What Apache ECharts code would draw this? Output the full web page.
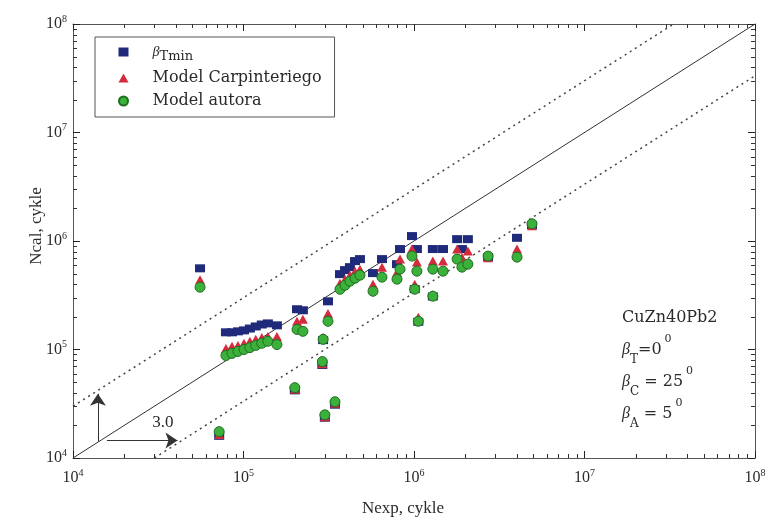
<!DOCTYPE html>
<html>
<head>
<meta charset="utf-8">
<script src="https://cdn.jsdelivr.net/npm/echarts@6/dist/echarts.min.js"></script>
<style>
  html, body { margin: 0; padding: 0; background: #fff; }
  #chart { width: 770px; height: 520px; }
</style>
</head>
<body>
<div id="chart"></div>
<script>
// experimental lives and the three predictions (cycles)
const nexp = [
  5.56e4, 7.2e4, 7.89e4, 8.56e4, 9.28e4, 1.007e5, 1.09e5, 1.18e5, 1.28e5, 1.39e5,
  1.57e5, 2.0e5, 2.06e5, 2.23e5, 2.9e5, 2.93e5, 3.0e5, 3.13e5, 3.44e5, 3.68e5,
  3.94e5, 4.21e5, 4.51e5, 4.82e5, 5.75e5, 6.49e5, 7.95e5, 8.28e5, 9.73e5, 1.01e6,
  1.04e6, 1.06e6, 1.29e6, 1.29e6, 1.48e6, 1.79e6, 1.91e6, 2.07e6, 2.72e6, 4.02e6,
  4.92e6
];
const betaTmin = [
  5.6e5, 1.6e4, 1.44e5, 1.44e5, 1.47e5, 1.5e5, 1.56e5, 1.63e5, 1.7e5, 1.74e5,
  1.67e5, 4.2e4, 2.35e5, 2.3e5, 7.2e4, 1.22e5, 2.35e4, 2.78e5, 3.1e4, 4.95e5,
  5.39e5, 5.74e5, 6.53e5, 6.81e5, 5.06e5, 6.81e5, 6.12e5, 8.43e5, 1.11e6, 3.6e5,
  8.43e5, 1.8e5, 3.08e5, 8.43e5, 8.43e5, 1.04e6, 8.43e5, 1.04e6, 7.1e5, 1.07e6,
  1.4e6
];
const carpinteri = [
  4.4e5, 1.65e4, 1.02e5, 1.07e5, 1.09e5, 1.14e5, 1.19e5, 1.24e5, 1.29e5, 1.32e5,
  1.32e5, 4.3e4, 1.82e5, 1.9e5, 7.4e4, 1.3e5, 2.4e4, 2.15e5, 3.2e4, 4.08e5,
  4.45e5, 4.84e5, 5.27e5, 5.5e5, 4.0e5, 5.74e5, 5.16e5, 6.81e5, 8.43e5, 4.0e5,
  6.39e5, 1.98e5, 3.2e5, 6.53e5, 6.53e5, 8.43e5, 7.1e5, 8.08e5, 7.0e5, 8.43e5,
  1.38e6
];
const autora = [
  3.75e5, 1.75e4, 8.8e4, 9.2e4, 9.6e4, 1.0e5, 1.04e5, 1.09e5, 1.14e5, 1.19e5,
  1.11e5, 4.45e4, 1.53e5, 1.47e5, 7.74e4, 1.24e5, 2.5e4, 1.82e5, 3.3e4, 3.59e5,
  3.91e5, 4.26e5, 4.54e5, 4.84e5, 3.44e5, 4.64e5, 4.45e5, 5.5e5, 7.26e5, 3.59e5,
  5.27e5, 1.82e5, 3.1e5, 5.5e5, 5.27e5, 6.81e5, 5.74e5, 6.12e5, 7.26e5, 7.1e5,
  1.44e6
];

const seriesNames = ['βTmin', 'Model Carpinteriego', 'Model autora'];
const axisMin = 1e4;
const axisMax = 1e8;
const scatterFactor = 3.0;
const perfectLine = [[1e4, 1e4], [1e8, 1e8]];
const upperBand = [[1e4, 3e4], [3.333e7, 1e8]];
const lowerBand = [[3e4, 1e4], [1e8, 3.333e7]];
const decades = [1e4, 1e5, 1e6, 1e7];
const minorSteps = [2, 3, 4, 5, 6, 7, 8, 9];
const materialLines = ['CuZn40Pb2', 'T=0', 'C = 25', 'A = 5'];

const SERIF = '"Liberation Serif", "DejaVu Serif", serif';
const WIDE_SERIF = '"DejaVu Serif", "Liberation Serif", serif';
const INK = '#2a2a2a';

const pairs = (ys) => nexp.map((x, i) => [x, ys[i]]);

const minorValues = [];
decades.forEach((d) => minorSteps.forEach((m) => minorValues.push(d * m)));

const supLabel = (v) => '{b|10}{e|' + Math.round(Math.log10(v)) + '}';
const supRich = {
  b: { fontFamily: SERIF, fontSize: 16, color: INK, lineHeight: 20 },
  e: { fontFamily: SERIF, fontSize: 10, color: INK, verticalAlign: 'top', lineHeight: 20, padding: [0, 0, 6, 0] },
};

const chart = echarts.init(document.getElementById('chart'));

const logAxis = (extra) => Object.assign({
  type: 'log',
  logBase: 10,
  min: axisMin,
  max: axisMax,
  nameMoveOverlap: false,
  splitLine: { show: false },
  axisLine: { show: true, lineStyle: { color: '#555', width: 1 } },
  axisTick: { show: true, inside: true, length: 7, lineStyle: { color: '#222', width: 1 } },
}, extra);

const textBlock = {
  type: 'text',
  left: 622,
  top: 302,
  style: {
    text: materialLines[0] + '\n' +
      '{g|β}{s|T}' + '=0' + '{p|0}\n' +
      '{g|β}{s|C}' + ' = 25' + '{p|0}\n' +
      '{g|β}{s|A}' + ' = 5' + '{p|0}',
    font: '16px ' + WIDE_SERIF,
    fill: INK,
    lineHeight: 32,
    rich: {
      g: { font: 'italic 16px ' + SERIF, fill: INK, lineHeight: 32 },
      s: { font: '12px ' + WIDE_SERIF, fill: INK, lineHeight: 32, verticalAlign: 'bottom', padding: [8, 0, 0, 0] },
      p: { font: '11px ' + WIDE_SERIF, fill: INK, lineHeight: 32, verticalAlign: 'top', padding: [0, 0, 8, 3] },
    },
  },
};

chart.setOption({
  animation: false,
  backgroundColor: '#fff',
  grid: { left: 73, top: 24, right: 15, bottom: 62, show: false, containLabel: false, outerBoundsMode: 'none' },
  xAxis: [
    logAxis({
      position: 'bottom',
      name: 'Nexp, cykle',
      nameLocation: 'middle',
      nameGap: 42,
      nameTextStyle: { fontFamily: SERIF, fontSize: 17, color: INK, padding: [0, 22, 0, 0] },
      axisLabel: { margin: 10, formatter: supLabel, rich: supRich },
    }),
    logAxis({ position: 'top', axisLabel: { show: false } }),
  ],
  yAxis: [
    logAxis({
      position: 'left',
      name: 'Ncal, cykle',
      nameLocation: 'middle',
      nameGap: 28,
      nameRotate: 90,
      nameTextStyle: { fontFamily: SERIF, fontSize: 17, color: INK, padding: [0, 0, 0, 30] },
      axisLabel: { margin: 6, formatter: supLabel, rich: supRich },
    }),
    logAxis({ position: 'right', axisLabel: { show: false } }),
  ],
  legend: {
    orient: 'vertical',
    left: 95,
    top: 37,
    padding: [7, 13, 8, 23],
    itemGap: 7,
    itemWidth: 48,
    itemHeight: 9,
    borderColor: '#555',
    borderWidth: 1,
    symbolKeepAspect: true,
    data: [
      { name: seriesNames[0], icon: 'path://M0,0h10v9h-10z' },
      { name: seriesNames[1], icon: 'path://M5,0L10,9H0Z' },
      { name: seriesNames[2], icon: 'circle' },
    ],
    formatter: (name) => (name === seriesNames[0] ? '{g|β}{s|Tmin}' : name),
    textStyle: {
      fontFamily: WIDE_SERIF,
      fontSize: 16,
      color: INK,
      rich: {
        g: { fontFamily: SERIF, fontStyle: 'italic', fontSize: 14, color: INK, lineHeight: 22 },
        s: { fontFamily: WIDE_SERIF, fontSize: 13, color: INK, lineHeight: 22, verticalAlign: 'bottom', padding: [6, 0, 0, 0] },
      },
    },
  },
  graphic: [textBlock],
  series: [
    {
      name: 'y=x',
      type: 'line',
      data: perfectLine,
      symbol: 'none',
      silent: true,
      z: 1,
      lineStyle: { color: '#333', width: 1 },
      markLine: {
        silent: true,
        symbol: ['none', 'arrow'],
        symbolSize: [12, 12],
        lineStyle: { color: '#333', width: 1, type: 'solid' },
        label: { show: false },
        data: [
          [{ coord: [1.4e4, 1.42e4] }, { coord: [1.4e4, 3.9e4] }],
          [
            { coord: [1.58e4, 1.45e4], label: { show: true, formatter: scatterFactor.toFixed(1), position: 'insideEndTop', fontFamily: SERIF, fontSize: 17, color: INK, distance: [4, 9] } },
            { coord: [4.1e4, 1.45e4] },
          ],
        ],
      },
    },
    {
      name: 'upper',
      type: 'line',
      data: upperBand,
      symbol: 'none',
      silent: true,
      z: 1,
      lineStyle: { color: '#444', width: 1.5, type: [2, 4] },
    },
    {
      name: 'lower',
      type: 'line',
      data: lowerBand,
      symbol: 'none',
      silent: true,
      z: 1,
      lineStyle: { color: '#444', width: 1.5, type: [2, 4] },
    },
    {
      name: seriesNames[0],
      type: 'scatter',
      data: pairs(betaTmin),
      symbol: 'rect',
      symbolSize: [10, 8],
      z: 3,
      itemStyle: { color: '#1f2a7a', opacity: 1 },
    },
    {
      name: seriesNames[1],
      type: 'scatter',
      data: pairs(carpinteri),
      symbol: 'triangle',
      symbolSize: [10, 9],
      z: 4,
      itemStyle: { color: '#d42b3d', opacity: 1 },
    },
    {
      name: seriesNames[2],
      type: 'scatter',
      data: pairs(autora),
      symbol: 'circle',
      symbolSize: 10,
      z: 5,
      itemStyle: { color: '#3bb03a', borderColor: '#1f6e22', borderWidth: 1, opacity: 1 },
    },
  ],
});

// minor ticks (2..9 per decade) on all four sides, placed through the axes' own scales
const x0 = chart.convertToPixel({ xAxisIndex: 0 }, axisMin);
const x1 = chart.convertToPixel({ xAxisIndex: 0 }, axisMax);
const y0 = chart.convertToPixel({ yAxisIndex: 0 }, axisMin);
const y1 = chart.convertToPixel({ yAxisIndex: 0 }, axisMax);
const tickLen = 4;
const tickStyle = { stroke: '#333', lineWidth: 1 };
const minorTicks = [];
minorValues.forEach((v) => {
  const px = Math.round(chart.convertToPixel({ xAxisIndex: 0 }, v)) + 0.5;
  const py = Math.round(chart.convertToPixel({ yAxisIndex: 0 }, v)) + 0.5;
  minorTicks.push(
    { type: 'line', silent: true, z: 2, shape: { x1: px, y1: y0, x2: px, y2: y0 - tickLen }, style: tickStyle },
    { type: 'line', silent: true, z: 2, shape: { x1: px, y1: y1, x2: px, y2: y1 + tickLen }, style: tickStyle },
    { type: 'line', silent: true, z: 2, shape: { x1: x0, y1: py, x2: x0 + tickLen, y2: py }, style: tickStyle },
    { type: 'line', silent: true, z: 2, shape: { x1: x1, y1: py, x2: x1 - tickLen, y2: py }, style: tickStyle }
  );
});
chart.setOption({ graphic: [textBlock].concat(minorTicks) }, { replaceMerge: ['graphic'] });
</script>
</body>
</html>
